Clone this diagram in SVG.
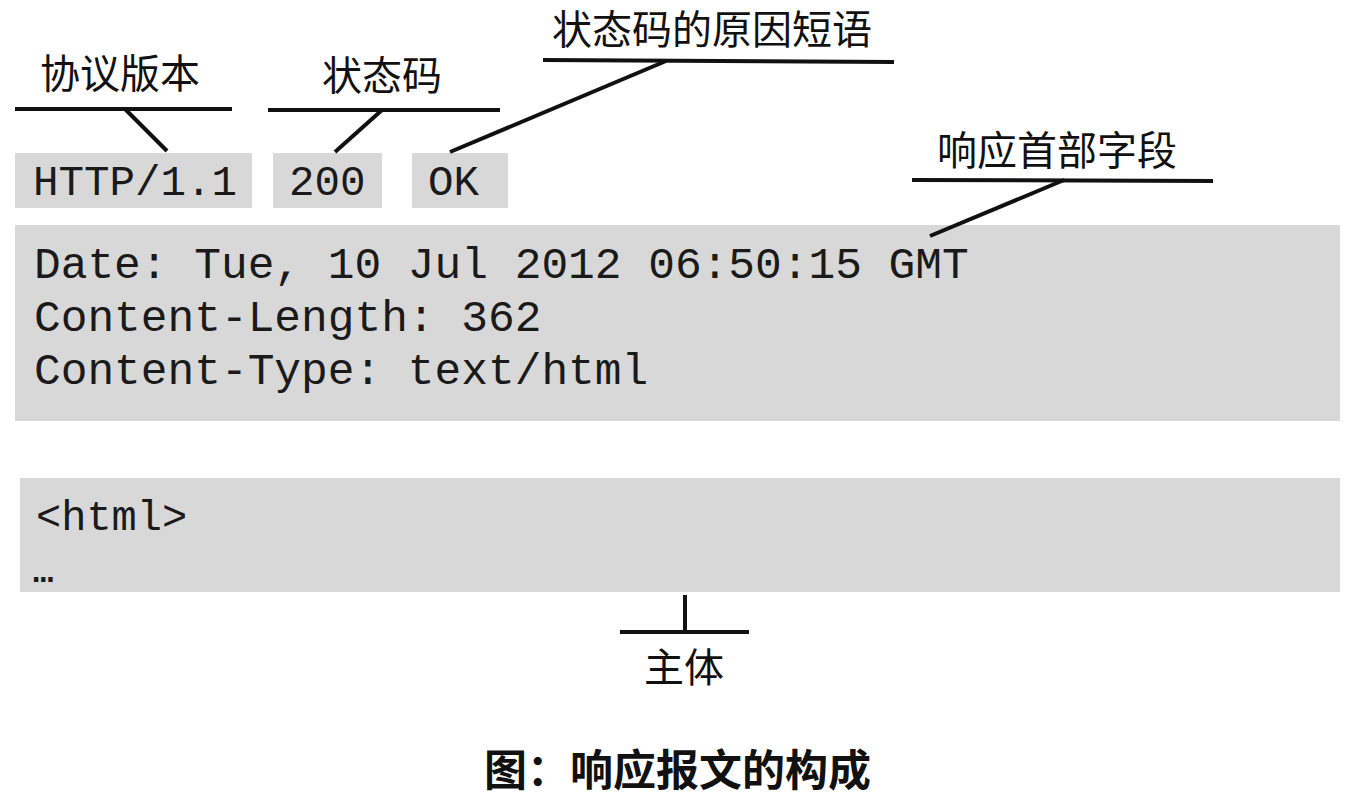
<svg xmlns="http://www.w3.org/2000/svg" width="1356" height="799" viewBox="0 0 1356 799">
<style>
.box{fill:#d8d8d8}
.mono{font-family:"Liberation Mono","DejaVu Sans Mono",monospace;fill:#1a1a1a}
.lbl{font-family:"Noto Sans CJK SC","Noto Sans",sans-serif;font-size:40px;fill:#111}
.cap{font-family:"Noto Sans CJK SC","Noto Sans",sans-serif;font-size:43px;font-weight:bold;fill:#111}
.ln{stroke:#111;stroke-width:4;fill:none;stroke-linecap:butt}
</style>
<rect width="1356" height="799" fill="#fff"/>
<g id="version">
<rect class="box" x="15" y="153" width="237" height="55"/>
<text class="mono" x="33" y="195" font-size="42.5">HTTP/1.1</text>
</g>
<g id="status">
<rect class="box" x="273" y="153" width="109" height="55"/>
<text class="mono" x="289" y="195" font-size="42.5">200</text>
</g>
<g id="reason">
<rect class="box" x="412" y="153" width="96" height="55"/>
<text class="mono" x="428" y="195" font-size="42.5">OK</text>
</g>
<g id="headers">
<rect class="box" x="15" y="225" width="1325" height="196"/>
<text class="mono" x="34" y="278" font-size="44.5">Date: Tue, 10 Jul 2012 06:50:15 GMT</text>
<text class="mono" x="34" y="331" font-size="44.5">Content-Length: 362</text>
<text class="mono" x="34" y="384" font-size="44.5">Content-Type: text/html</text>
</g>
<g id="body">
<rect class="box" x="20" y="478" width="1320" height="114"/>
<text class="mono" x="36" y="530" font-size="42">&lt;html&gt;</text>
<text class="mono" x="33" y="582" font-size="34" font-weight="bold">…</text>
</g>
<g id="label-version"><text class="lbl" x="40" y="88">协议版本</text></g>
<g id="label-status"><text class="lbl" x="322" y="90">状态码</text></g>
<g id="label-reason"><text class="lbl" x="552" y="44" font-size="41">状态码的原因短语</text></g>
<g id="label-headers"><text class="lbl" x="937" y="165" font-size="41">响应首部字段</text></g>
<g id="label-body"><text class="lbl" x="644" y="682" font-size="38">主体</text></g>
<g id="connectors">
<line class="ln" x1="15" y1="109" x2="232" y2="109"/>
<line class="ln" x1="125" y1="109" x2="167" y2="151"/>
<line class="ln" x1="268" y1="110" x2="500" y2="110"/>
<line class="ln" x1="382" y1="110" x2="335" y2="152"/>
<line class="ln" x1="543" y1="60" x2="894" y2="62"/>
<line class="ln" x1="666" y1="61" x2="450" y2="152"/>
<line class="ln" x1="912" y1="180" x2="1213" y2="181"/>
<line class="ln" x1="1064" y1="180" x2="930" y2="236"/>
<line class="ln" x1="685" y1="595" x2="685" y2="632"/>
<line class="ln" x1="620" y1="632" x2="749" y2="632"/>
</g>
<g id="caption"><text class="cap" x="484" y="786">图：响应报文的构成</text></g>
</svg>
